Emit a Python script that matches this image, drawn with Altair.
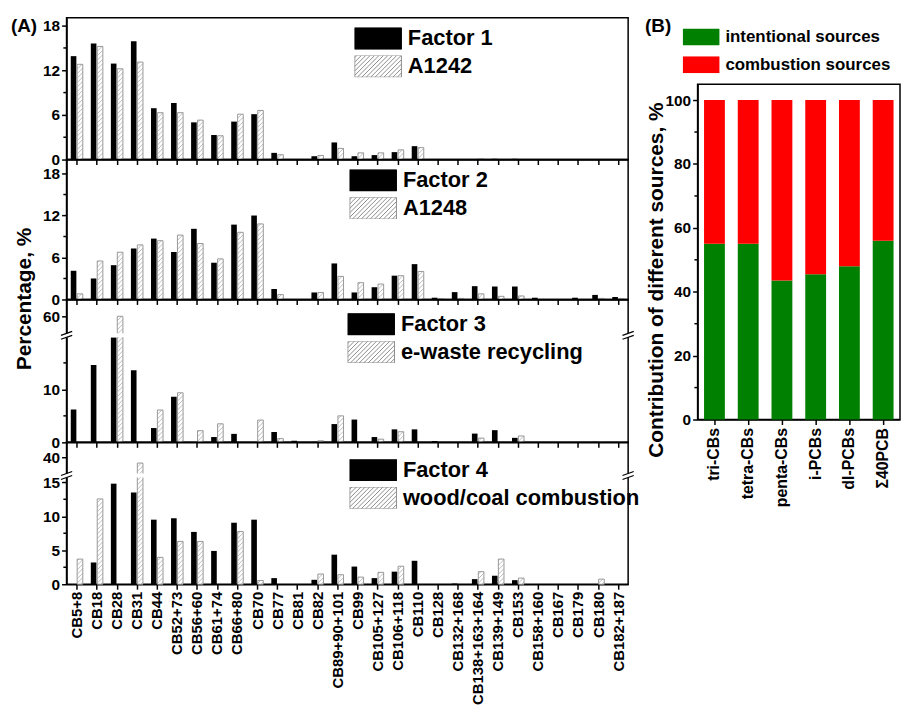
import json
import altair as alt
import pandas as pd

# ---------------- data ----------------
congeners = ["CB5+8", "CB18", "CB28", "CB31", "CB44", "CB52+73", "CB56+60", "CB61+74",
             "CB66+80", "CB70", "CB77", "CB81", "CB82", "CB89+90+101", "CB99", "CB105+127",
             "CB106+118", "CB110", "CB128", "CB132+168", "CB138+163+164", "CB139+149",
             "CB153", "CB158+160", "CB167", "CB179", "CB180", "CB182+187"]

factor1 = [13.9, 15.6, 12.9, 15.9, 6.9, 7.6, 5.0, 3.3, 5.1, 6.1, 0.9, 0, 0.45, 2.3,
           0.45, 0.6, 1.0, 1.8, 0, 0, 0, 0.1, 0.1, 0, 0, 0, 0, 0]
a1242 = [12.8, 15.2, 12.2, 13.1, 6.3, 6.3, 5.3, 3.2, 6.1, 6.6, 0.65, 0, 0.55, 1.5,
         0.9, 0.9, 1.3, 1.6, 0, 0, 0.1, 0, 0, 0, 0, 0, 0, 0]

factor2 = [4.1, 3.0, 4.9, 7.3, 8.7, 6.8, 10.1, 5.25, 10.7, 12.0, 1.5, 0, 1.0, 5.15,
           1.0, 1.75, 3.4, 5.05, 0.25, 1.05, 1.9, 1.85, 1.85, 0.25, 0, 0.25, 0.65, 0.35]
a1248 = [0.8, 5.5, 6.75, 7.8, 8.4, 9.2, 8.0, 5.8, 9.6, 10.8, 0.7, 0, 1.0, 3.3,
         2.4, 2.2, 3.4, 4.0, 0.1, 0.15, 0.8, 0.45, 0.5, 0, 0, 0, 0.15, 0.1]

factor3 = [6.2, 14.6, 19.8, 13.6, 2.7, 8.6, 0, 1.0, 1.6, 0, 1.95, 0.3, 0.1, 3.45,
           4.3, 1.0, 2.45, 2.45, 0.25, 0, 1.65, 2.3, 0.85, 0, 0.05, 0, 0.1, 0.05]
ewaste = [0, 0, 60, 0, 6.1, 9.35, 2.2, 3.5, 0, 4.2, 0.7, 0, 0.3, 5.0,
          0, 0.6, 2.0, 0, 0.05, 0, 0.8, 0, 1.2, 0, 0.05, 0.05, 0.1, 0.1]

factor4 = [0, 3.2, 14.8, 13.5, 9.5, 9.7, 7.7, 4.9, 9.05, 9.5, 0.9, 0, 0.65, 4.35,
           2.6, 0.9, 1.85, 3.45, 0, 0.1, 0.75, 1.25, 0.6, 0, 0, 0, 0, 0]
woodcoal = [3.7, 12.55, 0, 39.2, 3.95, 6.3, 6.3, 0, 7.75, 0.55, 0, 0, 1.5, 1.4,
            1.05, 1.75, 2.65, 0, 0, 0, 1.85, 3.7, 0.9, 0, 0, 0, 0.75, 0]

b_groups = ["tri-CBs", "tetra-CBs", "penta-CBs", "i-PCBs", "dl-PCBs", "Σ40PCB"]
intentional = [55, 55, 43.5, 45.5, 48, 56]
combustion = [45, 45, 56.5, 54.5, 52, 44]
sources = ["intentional sources", "combustion sources"]

# ---------------- styling ----------------
FONT = "Liberation Sans"
NCAT = len(congeners)
PLOT_W = 566
PX_PER_CAT = PLOT_W / NCAT
BLACK_X = (-0.29, -0.01)
HATCH_X = (0.03, 0.31)
HATCH_STROKE = "#8c8c8c"
HATCH_LINE = "#a0a0a0"
XLAB_SIZE = 15


def hatch_symbol_path(w=1.0, h=0.468, step=0.19):
    parts = [f"M{-w},{-h}H{w}V{h}H{-w}Z"]
    c = -w - 2 * h + step / 2
    while c < w:
        xa, ya = c, h
        xb, yb = c + 2 * h, -h
        if xa < -w:
            ya = h - (-w - xa)
            xa = -w
        if xb > w:
            yb = -h + (xb - w)
            xb = w
        if xb > xa:
            parts.append(f"M{xa:.3f},{ya:.3f}L{xb:.3f},{yb:.3f}")
        c += step
    return "".join(parts)


RECT_A = "M-1,-0.468H1V0.468H-1Z"
HATCH_A = hatch_symbol_path()
RECT_B = "M-1,-0.46H1V0.46H-1Z"


def hatch_segments(values, ppu, brk, shift, spacing=4.5):
    rows = []
    w_px = (HATCH_X[1] - HATCH_X[0]) * PX_PER_CAT
    for i, v in enumerate(values):
        if v <= 0:
            continue
        vt = v - shift if (brk is not None and v > brk) else v
        h_px = vt * ppu
        c = -w_px + spacing * 0.5
        while c < h_px:
            xa, ya = 0.0, c
            xb, yb = w_px, c + w_px
            if ya < 0:
                xa, ya = -c, 0.0
            if yb > h_px:
                xb, yb = h_px - c, h_px
            if xb - xa > 0.3:
                rows.append({"hx": i + HATCH_X[0] + xa / PX_PER_CAT,
                             "hx2": i + HATCH_X[0] + xb / PX_PER_CAT,
                             "hy": ya / ppu, "hy2": yb / ppu})
            c += spacing
    return pd.DataFrame(rows)


panels = [
    dict(factor=factor1, ref=a1242, names=["Factor 1", "A1242"], height=143, top=19.07,
         ticks=[0, 6, 12, 18], minor=[3, 9, 15], brk=None, shift=0, leg=(290, 10)),
    dict(factor=factor2, ref=a1248, names=["Factor 2", "A1248"], height=141, top=20.0,
         ticks=[0, 6, 12, 18], minor=[3, 9, 15], brk=None, shift=0, leg=(285, 10)),
    dict(factor=factor3, ref=ewaste, names=["Factor 3", "e-waste recycling"], height=144,
         top=26.97, ticks=[0, 10, 23.8], minor=[5, 15], brk=20.2, shift=36.2, leg=(283, 14)),
    dict(factor=factor4, ref=woodcoal, names=["Factor 4", "wood/coal combustion"], height=143,
         top=20.88, ticks=[0, 5, 10, 15, 18.63], minor=[2.5, 7.5, 12.5], brk=16.0, shift=21.37,
         leg=(285, 17)),
]


def make_panel(k, p):
    bottom = k == len(panels) - 1
    ppu = p["height"] / p["top"]
    xs = alt.Scale(domain=[-0.5, NCAT - 0.5], nice=False, zero=False)
    ys = alt.Scale(domain=[0, p["top"]], nice=False, zero=False)
    if bottom:
        xax = alt.Axis(values=list(range(NCAT)), title=None,
                       labelExpr=f"{json.dumps(congeners)}[datum.value]",
                       labelAngle=270, labelAlign="right", labelBaseline="middle",
                       labelFlush=False, labelOverlap=False, labelPadding=2,
                       labelFontSize=XLAB_SIZE)
    else:
        xax = alt.Axis(values=list(range(NCAT)), title=None, labels=False)
    yk = dict(values=p["ticks"], labelFlush=False, labelOverlap=False)
    if p["brk"] is not None:
        yk["labelExpr"] = (f"datum.value > {p['brk']} ? format(datum.value + {p['shift']}, '.0f')"
                           f" : format(datum.value, '.0f')")
    if k == 1:
        yk.update(title="Percentage, %", titleX=-42, titleY=140, titleAngle=270,
                  titleAlign="center", titleBaseline="middle")
    else:
        yk["title"] = None
    yax = alt.Axis(**yk)

    def X(f):
        return alt.X(f, type="quantitative", scale=xs, axis=xax)

    def Y(f):
        return alt.Y(f, type="quantitative", scale=ys, axis=yax)

    if p["brk"] is not None:
        tf = f"datum.val > {p['brk']} ? datum.val - {p['shift']} : datum.val"
    else:
        tf = "datum.val"

    layers = []
    for vals, xr, style in [(p["factor"], BLACK_X, "black"), (p["ref"], HATCH_X, "hatch")]:
        df = pd.DataFrame({"i": list(range(NCAT)), "val": vals})
        if style == "black":
            mk = alt.Chart(df).mark_rect(fill="black")
        else:
            mk = alt.Chart(df).mark_rect(fill="white", stroke=HATCH_STROKE, strokeWidth=0.9)
        layers.append(
            mk.transform_filter("datum.val > 0")
            .transform_calculate(xl=f"datum.i + {xr[0]}", xr=f"datum.i + {xr[1]}",
                                 yt=tf, y0="0")
            .encode(x=X("xl"), x2="xr:Q", y=Y("yt"), y2="y0:Q")
        )
    hdf = hatch_segments(p["ref"], ppu, p["brk"], p["shift"])
    layers.append(alt.Chart(hdf).mark_rule(color=HATCH_LINE, strokeWidth=0.7)
                  .encode(x=X("hx"), x2="hx2:Q", y=Y("hy"), y2="hy2:Q"))

    # minor ticks on the left axis
    mdf = pd.DataFrame({"m": p["minor"], "xa": -0.5 - 3.2 / PX_PER_CAT, "xb": -0.5})
    layers.append(alt.Chart(mdf).mark_rule(color="black", strokeWidth=1.5)
                  .encode(x=X("xa"), x2="xb:Q", y=Y("m")))

    # axis break
    if p["brk"] is not None:
        g = 2.0 / ppu
        d = 2.0 / ppu
        bdf = pd.DataFrame({"xa": [-0.8], "xb": [NCAT - 0.2],
                            "ya": [p["brk"] - g], "yb": [p["brk"] + g]})
        layers.append(alt.Chart(bdf).mark_rect(fill="white")
                      .encode(x=X("xa"), x2="xb:Q", y=Y("ya"), y2="yb:Q"))
        rows = []
        for side in (-0.5, NCAT - 0.5):
            for off in (-g, g):
                rows.append({"xa": side - 0.28, "xb": side + 0.28,
                             "ya": p["brk"] + off - d, "yb": p["brk"] + off + d})
        layers.append(alt.Chart(pd.DataFrame(rows)).mark_rule(color="black", strokeWidth=1.2)
                      .encode(x=X("xa"), x2="xb:Q", y=Y("ya"), y2="yb:Q"))

    # legend (hidden points carry the legend)
    names = p["names"]
    leg = alt.Legend(orient="none", legendX=p["leg"][0], legendY=p["leg"][1], title=None,
                     labelFont=FONT, labelFontSize=22, labelFontWeight="bold",
                     labelColor="black", symbolSize=2209, clipHeight=22, rowPadding=6,
                     labelOffset=6, padding=0, symbolStrokeWidth=1, symbolOpacity=1,
                     labelLimit=400, direction="vertical")
    ldf = pd.DataFrame({"series": names})
    layers.append(
        alt.Chart(ldf).mark_point(opacity=0, filled=True).encode(
            fill=alt.Fill("series:N", scale=alt.Scale(domain=names, range=["black", "white"]),
                          legend=leg),
            stroke=alt.Stroke("series:N",
                              scale=alt.Scale(domain=names, range=["black", HATCH_STROKE]),
                              legend=leg),
            shape=alt.Shape("series:N", scale=alt.Scale(domain=names, range=[RECT_A, HATCH_A]),
                            legend=leg),
        )
    )
    if k == 0:
        layers.append(
            alt.Chart(pd.DataFrame({"t": ["(A)"]})).mark_text(
                font=FONT, fontSize=19, fontWeight="bold", align="left", baseline="middle",
                color="black").encode(text="t:N", x=alt.value(-56), y=alt.value(8))
        )
    return alt.layer(*layers).properties(width=PLOT_W, height=p["height"])


panel_charts = [make_panel(k, p) for k, p in enumerate(panels)]
chart_a = (alt.vconcat(*panel_charts, spacing=0, bounds="flush")
           .resolve_scale(x="independent", y="independent", fill="independent",
                          stroke="independent", shape="independent")
           .resolve_legend(fill="independent", stroke="independent", shape="independent"))

# ---------------- panel B ----------------
B_W = 204
B_H = 338
bdf = pd.DataFrame({
    "group": b_groups * 2,
    "source": [sources[0]] * len(b_groups) + [sources[1]] * len(b_groups),
    "value": intentional + combustion,
    "ord": [0] * len(b_groups) + [1] * len(b_groups),
})
by_scale = alt.Scale(domain=[0, 105], nice=False, zero=False)
by_axis = alt.Axis(values=[0, 20, 40, 60, 80, 100], title="Contribution of different sources, %",
                   titleX=-41, titleY=197, titleAngle=270, titleAlign="center",
                   titleBaseline="middle", labelPadding=2)
bbars = alt.Chart(bdf).mark_bar(size=21).encode(
    x=alt.X("group:N", sort=b_groups, scale=alt.Scale(paddingInner=0, paddingOuter=0),
            axis=alt.Axis(title=None, labelAngle=270, labelAlign="right", labelBaseline="middle",
                          labelPadding=3, labelFontSize=16)),
    y=alt.Y("value:Q", stack="zero", scale=by_scale, axis=by_axis),
    color=alt.Color("source:N", scale=alt.Scale(domain=sources, range=["#008000", "#ff0000"]),
                    legend=None),
    order=alt.Order("ord:Q", sort="ascending"),
)
bminor = alt.Chart(pd.DataFrame({"m": [10, 30, 50, 70, 90]})).mark_rule(
    color="black", strokeWidth=1.5).encode(
    y=alt.Y("m:Q", scale=by_scale, axis=by_axis), x=alt.value(-3.2), x2=alt.value(0))
bplot = alt.layer(bbars, bminor).properties(width=B_W, height=B_H)

bleg = alt.Legend(orient="none", legendX=-15, legendY=11, title=None, labelFont=FONT,
                  labelFontSize=17, labelFontWeight="bold", labelColor="black",
                  symbolType=RECT_B, symbolSize=1369, clipHeight=17, rowPadding=10,
                  labelOffset=6, padding=0, symbolStrokeWidth=0, symbolOpacity=1,
                  labelLimit=400, direction="vertical")
spacer_leg = alt.Chart(pd.DataFrame({"source": sources})).mark_square(opacity=0).encode(
    fill=alt.Fill("source:N", scale=alt.Scale(domain=sources, range=["#008000", "#ff0000"]),
                  legend=bleg))
spacer_txt = alt.Chart(pd.DataFrame({"t": ["(B)"]})).mark_text(
    font=FONT, fontSize=19, fontWeight="bold", align="left", baseline="middle",
    color="black").encode(text="t:N", x=alt.value(-53), y=alt.value(8))
spacer = alt.layer(spacer_txt, spacer_leg).properties(
    width=B_W, height=67, view=alt.ViewBackground(stroke="transparent"))
chart_b = alt.vconcat(spacer, bplot, spacing=0, bounds="flush")

chart = (
    alt.hconcat(chart_a, chart_b, spacing=3)
    .resolve_scale(fill="independent", stroke="independent", shape="independent",
                   color="independent")
    .resolve_legend(fill="independent", stroke="independent", shape="independent",
                    color="independent")
    .properties(padding={"left": 2, "top": 5, "right": 0, "bottom": 0}, background="white")
    .configure_view(stroke="black", strokeWidth=1.5)
    .configure_axis(labelFont=FONT, labelFontWeight="bold", labelFontSize=15.5,
                    labelColor="black", domainColor="black", domainWidth=1.5,
                    tickColor="black", tickWidth=1.5, tickSize=5, grid=False,
                    titleFont=FONT, titleFontWeight="bold", titleFontSize=21,
                    titleColor="black")
    .configure_legend(labelFont=FONT, labelFontWeight="bold", labelColor="black")
)

chart.save("out.html", embed_options={"renderer": "svg", "actions": False})
